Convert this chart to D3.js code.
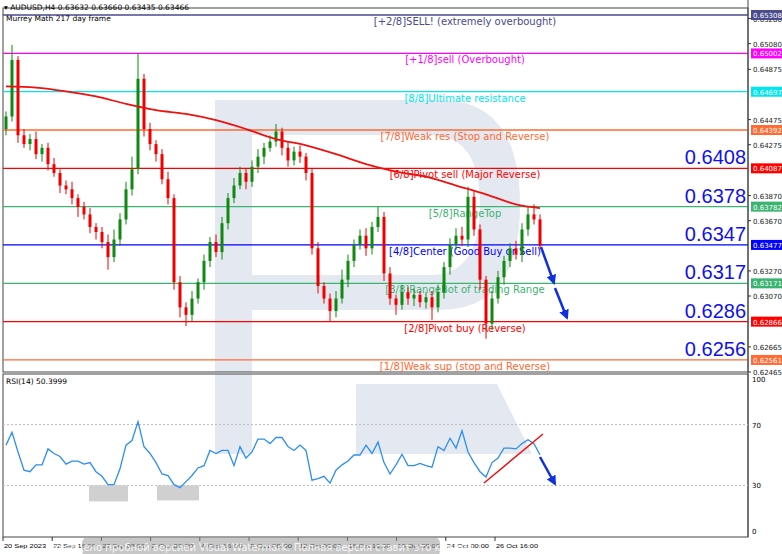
<!DOCTYPE html>
<html><head><meta charset="utf-8">
<script src="https://cdn.jsdelivr.net/npm/d3@7"></script>
<style>body{margin:0;background:#fff}svg{font-family:Tahoma,"DejaVu Sans",sans-serif}</style>
</head><body><svg id="canvas" width="782" height="554"></svg>
<script>
// closes per H4 bar (open = previous close)
const closes = [0.6450,0.6495,0.6435,0.6428,0.6432,0.6420,0.6425,0.6412,0.6405,0.6395,
  0.6392,0.6385,0.6378,0.6372,0.6362,0.6358,0.6350,0.6338,0.6352,0.6368,
  0.6392,0.6408,0.6480,0.6440,0.6428,0.6420,0.6400,0.6385,0.6318,0.6298,
  0.6292,0.6305,0.6318,0.6335,0.6350,0.6342,0.6365,0.6385,0.6395,0.6405,
  0.6398,0.6410,0.6418,0.6425,0.6430,0.6438,0.6425,0.6415,0.6422,0.6418,
  0.6405,0.6345,0.6315,0.6305,0.6295,0.6305,0.6320,0.6335,0.6348,0.6355,
  0.6345,0.6362,0.6370,0.6325,0.6305,0.6300,0.6310,0.6305,0.6308,0.6302,
  0.6306,0.6298,0.6310,0.6330,0.6348,0.6355,0.6352,0.6386,0.6360,0.6320,
  0.6285,0.6305,0.6322,0.6335,0.6345,0.6340,0.6360,0.6372,0.6368,0.6347];
const wickUp = [4,12,3,5,4,6,3,4,5,3,4,6,3,4,5,3,4,6,8,5,6,10,20,4,5,3,4,6,3,5,
  4,6,3,5,4,6,5,4,6,5,4,5,6,4,5,6,3,5,4,5,3,4,5,3,4,6,8,5,4,5,
  6,4,8,4,5,3,6,4,5,3,4,5,6,4,5,6,7,8,5,4,3,6,5,4,4,6,5,6,8,4];
const wickDn = [5,4,6,3,5,4,6,5,3,6,4,5,8,4,5,6,5,10,4,5,4,5,4,6,5,6,4,5,6,8,
  9,5,4,6,5,4,6,5,4,3,6,4,5,6,3,4,6,5,4,5,6,5,6,4,8,5,4,6,5,4,
  6,5,4,6,5,8,4,5,6,4,5,10,4,5,6,4,5,6,5,8,12,5,4,6,5,4,6,5,4,3];
const rsi = [56.5,65,52,40,39,43.5,43.5,54,51,49,44,46,46,44,45,39,36,30.5,30.5,41,
  56.5,59.5,72,55.5,51,45,37.5,36.5,30.5,28.5,32.5,36.5,41.5,43,53,51,53,53,43,55.5,
  48,52,60.5,60.5,57.5,61.5,61.5,55.5,53,56.5,53,33.5,34.5,36,31.5,40,43.5,46,50,50,
  56.5,51,58.5,45,37.5,43.5,50.5,43,43,44.5,43,42,55.5,53,61,54.5,66,52,45,39,
  35.5,45,48,54.5,54.5,54,57.5,60,57.5,50.2];
// moving average sampled every 5 bars
const maIdx = [0,5,10,15,20,25,30,35,40,45,50,55,60,65,70,75,80,85,89];
const maVal = [0.6474,0.6473,0.6470,0.6466,0.6460,0.6455,0.6452,0.6447,0.6440,0.6432,0.6427,0.6420,0.6412,0.6406,0.6402,0.6395,0.6388,0.6380,0.6377];
const levels = [0.65308,0.65002,0.64697,0.64392,0.64087,0.63782,0.63477,0.63171,0.62866,0.62561];
const levelColors = ["#4a4a8c","#ff00ff","#00e5ee","#ff6a33","#ff0000","#3cb371","#0000ff","#3cb371","#ff0000","#ff6a33"];
const levelNames = ["[+2/8]SELL! (extremely overbought)","[+1/8]sell (Overbought)","[8/8]Ultimate resistance",
  "[7/8]Weak res (Stop and Reverse)","[6/8]Pivot sell (Major Reverse)","[5/8]RangeTop","[4/8]Center (Good Buy or Sell)",
  "[3/8]RangeBot of trading Range","[2/8]Pivot buy (Reverse)","[1/8]Weak sup (stop and Reverse)"];
const bigLabels = ["0.6408","0.6378","0.6347","0.6317","0.6286","0.6256"];
const bigLevels = [0.64087,0.63782,0.63477,0.63171,0.62866,0.62561];
const axisTicks = [0.65280,0.65080,0.64875,0.64475,0.64275,0.63870,0.63670,0.63270,0.63070,0.62665,0.62465];
const timeLabels = ["20 Sep 2023","22 Sep 16:00","27 Sep 08:00","2 Oct 00:00","4 Oct 16:00","9 Oct 08:00","12 Oct 00:00","16 Oct 16:00","19 Oct 08:00","24 Oct 00:00","26 Oct 16:00"];
const timeBars = [-1,15,31,47,63,79,95,111,127,143,159];

const svg = d3.select("#canvas");
const L = 3, R = 748, MB = 372, RT = 374;
const x = d3.scaleLinear().domain([0, 89]).range([6, 540]);
const xt = d3.scaleLinear().domain([-1, 159]).range([3, 495]);
const y = d3.scaleLinear().domain([0.62465, 0.65308]).range([372, 15]);
const yr = d3.scaleLinear().domain([0, 100]).range([531, 379]);

// watermark
const wm = "#e4e9f1";
svg.append("path").attr("fill", wm)
  .attr("d", "M215,100 L440,100 Q520,100 520,205 Q520,310 440,310 L252,310 L252,372 L215,372 Z M252,135 L252,275 L430,275 Q480,275 480,205 Q480,135 430,135 Z")
  .attr("fill-rule", "evenodd");
svg.append("rect").attr("x", 215).attr("y", RT).attr("width", 37).attr("height", 80).attr("fill", wm);
svg.append("path").attr("fill", wm).attr("d", "M356,384 L497,384 L532,454 L356,454 Z");

// frames
svg.append("rect").attr("x", L).attr("y", 8).attr("width", R - L).attr("height", MB - 8).attr("fill", "none").attr("stroke", "#444");
svg.append("rect").attr("x", L).attr("y", RT).attr("width", R - L).attr("height", 537 - RT).attr("fill", "none").attr("stroke", "#444");

// levels
levels.forEach((v, i) => {
  svg.append("line").attr("x1", L).attr("x2", R).attr("y1", y(v)).attr("y2", y(v))
    .attr("stroke", levelColors[i]).attr("stroke-width", 1.3);
  svg.append("text").attr("x", 465).attr("y", y(v) + 10).attr("text-anchor", "middle")
    .attr("font-size", 10).attr("fill", levelColors[i]).text(levelNames[i]);
});

// candles
closes.forEach((c, i) => {
  const o = i === 0 ? 0.6440 : closes[i - 1];
  const hi = Math.max(o, c) + wickUp[i] / 10000, lo = Math.min(o, c) - wickDn[i] / 10000;
  const col = c >= o ? "#118811" : "#ee0000";
  svg.append("line").attr("x1", x(i)).attr("x2", x(i)).attr("y1", y(hi)).attr("y2", y(lo)).attr("stroke", col);
  svg.append("rect").attr("x", x(i) - 1.5).attr("width", 3)
    .attr("y", y(Math.max(o, c))).attr("height", Math.max(1, y(Math.min(o, c)) - y(Math.max(o, c)))).attr("fill", col);
});

// MA
svg.append("path").datum(maIdx.map((d, i) => [d, maVal[i]]))
  .attr("d", d3.line().x(d => x(d[0])).y(d => y(d[1])).curve(d3.curveMonotoneX))
  .attr("fill", "none").attr("stroke", "#ee1111").attr("stroke-width", 1.8);

// big labels
bigLabels.forEach((t, i) => {
  svg.append("text").attr("x", 746).attr("y", y(bigLevels[i]) - 4).attr("text-anchor", "end")
    .attr("font-family", "Liberation Sans, Arial").attr("font-size", 20).attr("fill", "#1010ee").text(t);
});

// arrows
const defs = svg.append("defs");
defs.append("marker").attr("id", "ah").attr("viewBox", "0 0 10 10").attr("refX", 8).attr("refY", 5)
  .attr("markerWidth", 4).attr("markerHeight", 4).attr("orient", "auto")
  .append("path").attr("d", "M0,0 L10,5 L0,10 Z").attr("fill", "#1030e0");
const arrow = (x1, y1, x2, y2) => svg.append("line").attr("x1", x1).attr("y1", y1).attr("x2", x2).attr("y2", y2)
  .attr("stroke", "#1030e0").attr("stroke-width", 2.5).attr("marker-end", "url(#ah)");
arrow(541, 247, 554, 283);
arrow(555, 288, 567, 318);

// right axis
svg.append("line").attr("x1", R).attr("x2", R).attr("y1", 0).attr("y2", 537).attr("stroke", "#444");
axisTicks.forEach(v => {
  svg.append("line").attr("x1", R).attr("x2", R + 3).attr("y1", y(v)).attr("y2", y(v)).attr("stroke", "#333");
  svg.append("text").attr("x", R + 5).attr("y", y(v) + 3).attr("font-size", 7).attr("fill", "#222").text(v.toFixed(5));
});
levels.forEach((v, i) => {
  svg.append("rect").attr("x", R + 3).attr("y", y(v) - 5).attr("width", 31).attr("height", 10).attr("fill", levelColors[i]);
  svg.append("text").attr("x", R + 5).attr("y", y(v) + 3).attr("font-size", 7).attr("fill", "#fff").text(v.toFixed(5));
});

// header
svg.append("text").attr("x", 4).attr("y", 10).attr("font-size", 7.5).attr("fill", "#000").text("▾ AUDUSD,H4  0.63632 0.63660 0.63435 0.63466");
svg.append("text").attr("x", 6).attr("y", 21).attr("font-size", 7.5).attr("fill", "#000").text("Murrey Math 217 day frame");

// RSI panel
[70, 30].forEach(v => svg.append("line").attr("x1", L).attr("x2", R).attr("y1", yr(v)).attr("y2", yr(v))
  .attr("stroke", "#bbb").attr("stroke-dasharray", "2,2"));
svg.append("rect").attr("x", 89).attr("y", yr(30)).attr("width", 39).attr("height", 16).attr("fill", "#d0d0d0");
svg.append("rect").attr("x", 157).attr("y", yr(30)).attr("width", 42).attr("height", 15).attr("fill", "#d0d0d0");
svg.append("path").datum(rsi).attr("d", d3.line().x((d, i) => x(i)).y(d => yr(d)))
  .attr("fill", "none").attr("stroke", "#2b8ef0").attr("stroke-width", 1.3);
svg.append("line").attr("x1", 484).attr("y1", 483).attr("x2", 543).attr("y2", 434).attr("stroke", "#ee1111").attr("stroke-width", 1.5);
arrow(540, 457, 555, 484);
svg.append("text").attr("x", 6).attr("y", 384).attr("font-size", 7.5).text("RSI(14) 50.3999");
[100, 70, 30, 0].forEach(v => svg.append("text").attr("x", R + 4).attr("y", yr(v) + 3).attr("font-size", 7).text(v));

// time axis
timeBars.forEach((b, i) => {
  svg.append("line").attr("x1", xt(b)).attr("x2", xt(b)).attr("y1", 537).attr("y2", 541).attr("stroke", "#333");
  svg.append("text").attr("x", xt(b) + 1).attr("y", 548).attr("font-family", "Liberation Sans, Arial")
    .attr("font-size", 6).attr("textLength", 42).attr("lengthAdjust", "spacingAndGlyphs").text(timeLabels[i]);
});

// trial watermark banner
svg.append("rect").attr("x", 82).attr("y", 537).attr("width", 358).attr("height", 20).attr("rx", 6).attr("fill", "#999").attr("opacity", 0.55);
svg.append("text").attr("x", 261).attr("y", 551).attr("text-anchor", "middle").attr("font-size", 10).attr("fill", "#fff").attr("opacity", 0.85)
  .text("Защищено пробной версией Visual Watermark. Полная версия ставит это клеймо.");
</script></body></html>
